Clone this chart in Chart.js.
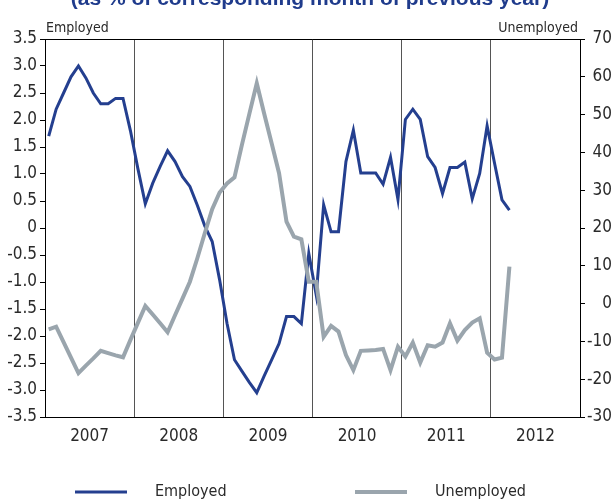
<!DOCTYPE html>
<html>
<head>
<meta charset="utf-8">
<script src="https://cdn.jsdelivr.net/npm/chart.js@4"></script>
<style>
  body { margin: 0; background: #fff; }
  #wrap { width: 612px; height: 504px; }
</style>
</head>
<body>
<div id="wrap"><canvas id="chart" width="612" height="504"></canvas></div>
<script>
const title = "(as % of corresponding month of previous year)";
const years = ["2007", "2008", "2009", "2010", "2011", "2012"];

// monthly values, Jan 2007 .. Mar 2012
const employed = [
  1.70, 2.20, 2.50, 2.80, 3.00, 2.78, 2.50, 2.30, 2.30, 2.40, 2.40, 1.80,
  1.10, 0.45, 0.83, 1.14, 1.43, 1.23, 0.95, 0.77, 0.42, 0.04, -0.25, -0.96,
  -1.77, -2.44, -2.65, -2.86, -3.05, -2.74, -2.44, -2.14, -1.64, -1.64, -1.77, -0.47,
  -1.24, 0.43, -0.07, -0.07, 1.23, 1.81, 1.02, 1.02, 1.02, 0.81, 1.31, 0.53,
  2.01, 2.20, 2.01, 1.32, 1.12, 0.64, 1.12, 1.12, 1.22, 0.54, 1.01, 1.89,
  1.20, 0.52, 0.33,
];
const unemployed = [
  -6.8, -6.1, -10.2, -14.3, -18.4, -16.4, -14.5, -12.5, -13.1, -13.7, -14.2, -9.6,
  -5.1, -0.6, -2.9, -5.2, -7.6, -3.1, 1.3, 5.8, 12.0, 18.6, 25.0, 29.4,
  31.8, 33.4, 42.0, 50.2, 58.3, 50.2, 42.4, 34.5, 21.7, 17.7, 17.0, 5.8,
  5.8, -8.8, -5.9, -7.4, -13.6, -17.6, -12.5, -12.4, -12.3, -12.0, -17.6, -11.4,
  -14.0, -10.3, -15.6, -11.0, -11.4, -10.3, -5.2, -9.8, -7.0, -5.0, -3.9, -13.0,
  -14.8, -14.3, 9.8,
];

const FONT = "'DejaVu Sans Condensed', 'Liberation Sans', sans-serif";
Chart.defaults.font.family = FONT;
Chart.defaults.color = "#2a2a2a";

const toPoints = (arr) => arr.map((v, i) => ({ x: i + 0.5, y: v }));

// title, top captions, top border and legend
const extras = {
  id: "extras",
  afterDraw(chart) {
    const { ctx, chartArea: a } = chart;
    ctx.save();
    ctx.strokeStyle = "#000";
    ctx.lineWidth = 1;
    ctx.beginPath();
    ctx.moveTo(a.left, a.top + 0.5);
    ctx.lineTo(a.right, a.top + 0.5);
    ctx.stroke();

    ctx.fillStyle = "#1f3b8c";
    ctx.font = "bold 21px 'Liberation Sans', sans-serif";
    ctx.textAlign = "center";
    ctx.textBaseline = "alphabetic";
    ctx.fillText(title, 310, 5);

    ctx.fillStyle = "#2a2a2a";
    ctx.font = "14px " + FONT;
    ctx.textBaseline = "alphabetic";
    ctx.textAlign = "left";
    ctx.fillText("Employed", a.left + 1, a.top - 7);
    ctx.textAlign = "right";
    ctx.fillText("Unemployed", a.right - 2, a.top - 7);

    // legend
    const legendX = [75, 355];
    const y = 492;
    ctx.font = "16px " + FONT;
    ctx.textAlign = "left";
    ctx.textBaseline = "middle";
    chart.data.datasets.forEach((ds, i) => {
      const x = legendX[i];
      ctx.strokeStyle = ds.borderColor;
      ctx.lineWidth = ds.borderWidth;
      ctx.beginPath();
      ctx.moveTo(x, y);
      ctx.lineTo(x + 52, y);
      ctx.stroke();
      ctx.fillStyle = "#2a2a2a";
      ctx.fillText(ds.label, x + 80, y);
    });
    ctx.restore();
  },
};

const yTick = (v) => (v === 0 ? "0" : v.toFixed(1));

new Chart(document.getElementById("chart"), {
  type: "line",
  data: {
    datasets: [
      {
        label: "Employed",
        data: toPoints(employed),
        borderColor: "#243f8f",
        borderWidth: 3,
        pointRadius: 0,
        tension: 0,
        yAxisID: "y",
        order: 1,
      },
      {
        label: "Unemployed",
        data: toPoints(unemployed),
        borderColor: "#9aa5ad",
        borderWidth: 4,
        pointRadius: 0,
        tension: 0,
        yAxisID: "y2",
        order: 0,
      },
    ],
  },
  options: {
    responsive: false,
    animation: false,
    layout: { padding: { top: 39, bottom: 47, left: 0, right: 0 } },
    plugins: { legend: { display: false }, tooltip: { enabled: false } },
    scales: {
      x: {
        type: "linear",
        min: 0,
        max: 72,
        afterFit: (s) => { s.height = 40; },
        ticks: {
          stepSize: 6,
          autoSkip: false,
          maxRotation: 0,
          padding: 9,
          font: { size: 17 },
          callback: (v) => (v % 12 === 6 ? years[(v - 6) / 12] : ""),
        },
        grid: {
          drawTicks: false,
          color: (c) =>
            c.tick && c.tick.value % 12 === 0 && c.tick.value > 0 && c.tick.value < 72
              ? "#555"
              : "rgba(0,0,0,0)",
        },
        border: { display: true, color: "#000" },
      },
      y: {
        position: "left",
        min: -3.5,
        max: 3.5,
        afterFit: (s) => { s.width = 45; },
        ticks: { stepSize: 0.5, autoSkip: false, font: { size: 17 }, padding: 3, callback: yTick },
        grid: { drawOnChartArea: false, tickLength: 5, color: "#000" },
        border: { display: true, color: "#000" },
      },
      y2: {
        position: "right",
        min: -30,
        max: 70,
        afterFit: (s) => { s.width = 32; },
        ticks: { stepSize: 10, autoSkip: false, font: { size: 17 }, padding: 1, crossAlign: "far" },
        grid: { drawOnChartArea: false, tickLength: 5, color: "#000" },
        border: { display: true, color: "#000" },
      },
    },
  },
  plugins: [extras],
});
</script>
</body>
</html>
